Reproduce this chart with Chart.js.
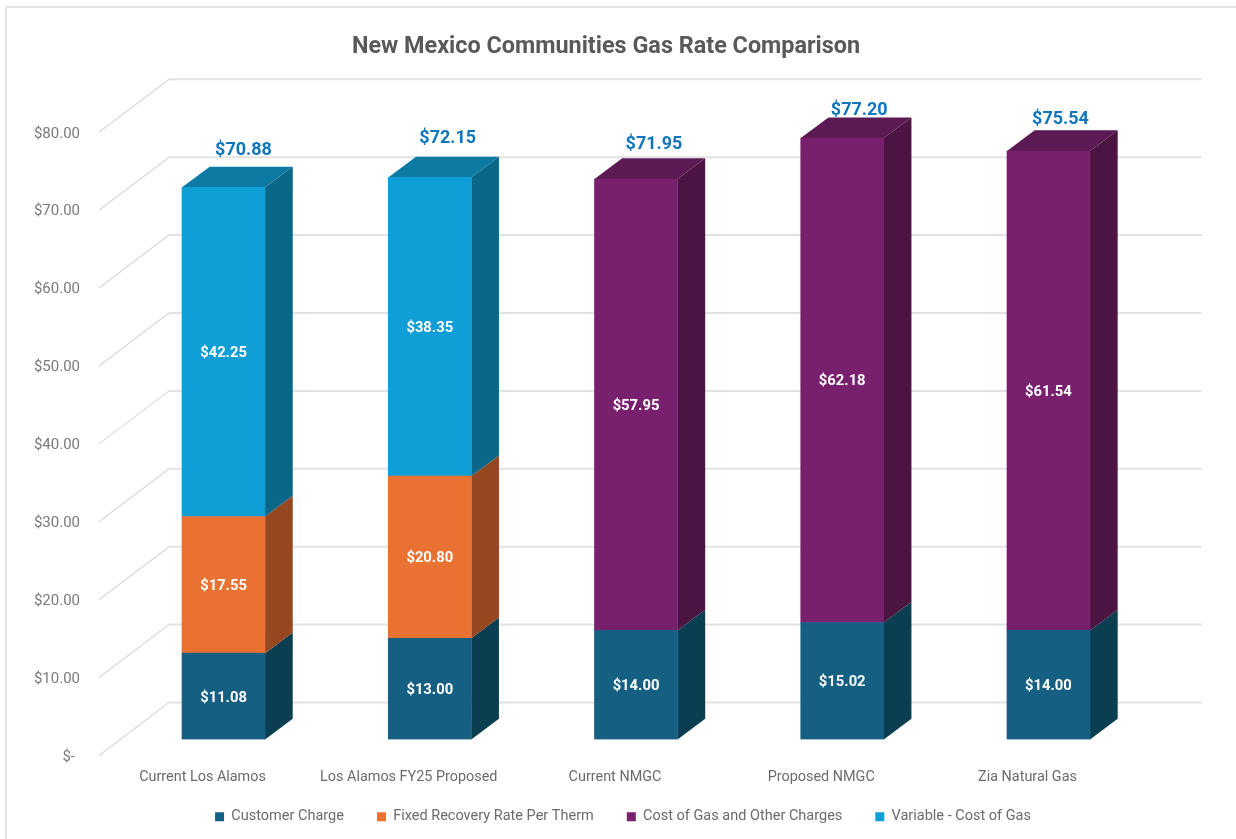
<!DOCTYPE html>
<html>
<head>
<meta charset="utf-8">
<title>New Mexico Communities Gas Rate Comparison</title>
<script src="https://cdn.jsdelivr.net/npm/chart.js@4/dist/chart.umd.min.js"></script>
<style>
  html, body { margin: 0; padding: 0; background: #fff; overflow: hidden; }
  #wrap { width: 1236px; height: 839px; }
</style>
</head>
<body>
<div id="wrap"><canvas id="gasChart"></canvas></div>
<script>
const categories = ['Current Los Alamos', 'Los Alamos FY25 Proposed', 'Current NMGC', 'Proposed NMGC', 'Zia Natural Gas'];
const customerCharge = [11.08, 13.00, 14.00, 15.02, 14.00];
const fixedRecovery = [17.55, 20.80, null, null, null];
const costOfGasOther = [null, null, 57.95, 62.18, 61.54];
const variableGas = [42.25, 38.35, null, null, null];
const totals = [70.88, 72.15, 71.95, 77.20, 75.54];

// hand-placed total labels in the original, px above the bar's front top edge
const totalRaise = [37, 39, 34, 28, 32];
const totalShift = [20, 18, 18, 17, 12];

const depthX = 27.7, depthY = -20.7;   // bar depth
const wallY = -37;                     // bar plane to back wall
const floorX = -70, floorY = 53;       // back wall to front end of side wall
const sans = 'Roboto, sans-serif';

const fmt = v => '$' + v.toFixed(2);

const faces = [
  { front: '#156082', side: '#0c3e52', top: '#0f4a63' },
  { front: '#e97132', side: '#95481f', top: '#b55726' },
  { front: '#78206e', side: '#4c1441', top: '#5c1a54' },
  { front: '#0f9ed5', side: '#0a6788', top: '#0c7aa3' }
];

function poly(ctx, pts, color) {
  ctx.fillStyle = color;
  ctx.beginPath();
  pts.forEach((p, i) => i ? ctx.lineTo(p[0], p[1]) : ctx.moveTo(p[0], p[1]));
  ctx.closePath();
  ctx.fill();
}

const bar3d = {
  id: 'bar3d',
  afterLayout(chart) {
    // excel centres title and legend on its own, not on the plot
    chart.titleBlock.left -= 30; chart.titleBlock.right -= 30;
    chart.legend.left -= 13; chart.legend.right -= 13;
    chart.legend.top += 37; chart.legend.bottom += 37;
  },
  beforeDraw(chart) {
    const ctx = chart.ctx;
    ctx.save();
    ctx.strokeStyle = '#dcdcdc';
    ctx.lineWidth = 1.5;
    ctx.beginPath();
    ctx.moveTo(6, 839); ctx.lineTo(6, 7); ctx.lineTo(1236, 7);
    ctx.stroke();
    ctx.restore();
  },
  beforeDatasetsDraw(chart) {
    const ctx = chart.ctx, y = chart.scales.y, area = chart.chartArea;
    const backLeft = area.left + 48.6, backRight = area.right + 50;
    ctx.save();
    y.ticks.forEach(t => {
      const py = y.getPixelForValue(t.value) + wallY;
      ctx.strokeStyle = '#d9d9d9';
      ctx.lineWidth = 1.2;
      ctx.beginPath();
      ctx.moveTo(backLeft + floorX, py + floorY);
      ctx.lineTo(backLeft, py);
      ctx.stroke();
      ctx.strokeStyle = '#e2e2e2';
      ctx.lineWidth = 2;
      ctx.beginPath();
      ctx.moveTo(backLeft, py);
      ctx.lineTo(backRight, py);
      ctx.stroke();
    });
    // side and top faces, bottom segment first
    chart.data.datasets.forEach((ds, d) => {
      chart.getDatasetMeta(d).data.forEach((bar, i) => {
        if (ds.data[i] == null) return;
        const p = bar.getProps(['x', 'y', 'base', 'width'], true);
        const l = p.x - p.width / 2, r = p.x + p.width / 2;
        poly(ctx, [[r, p.y], [r + depthX, p.y + depthY], [r + depthX, p.base + depthY], [r, p.base]], faces[d].side);
        const isTop = chart.data.datasets.slice(d + 1).every(o => o.data[i] == null);
        if (isTop) {
          poly(ctx, [[l, p.y], [l + depthX, p.y + depthY], [r + depthX, p.y + depthY], [r, p.y]], faces[d].top);
        }
      });
    });
    ctx.restore();
  },
  afterDatasetsDraw(chart) {
    const ctx = chart.ctx, x = chart.scales.x, y = chart.scales.y;
    ctx.save();
    ctx.textBaseline = 'middle';
    ctx.textAlign = 'center';

    // segment values
    ctx.font = 'bold 14.8px ' + sans;
    ctx.fillStyle = '#fff';
    chart.data.datasets.forEach((ds, d) => {
      chart.getDatasetMeta(d).data.forEach((bar, i) => {
        if (ds.data[i] == null) return;
        const p = bar.getProps(['x', 'y', 'base'], true);
        ctx.fillText(fmt(ds.data[i]), p.x, (p.y + p.base) / 2 + 1.5);
      });
    });

    // stack totals
    ctx.font = 'bold 18px ' + sans;
    ctx.fillStyle = '#0f75bd';
    totals.forEach((v, i) => {
      ctx.fillText(fmt(v), x.getPixelForValue(i) + totalShift[i], y.getPixelForValue(v) - totalRaise[i]);
    });

    // axis labels sit on the front edge of the floor, not the bar plane
    ctx.font = '14.4px ' + sans;
    ctx.fillStyle = '#6b6b6b';
    categories.forEach((c, i) => {
      ctx.fillText(c, x.getPixelForValue(i) - 21, 777);
    });
    ctx.textAlign = 'right';
    ctx.font = '15px ' + sans;
    ctx.fillStyle = '#7a7a7a';
    y.ticks.forEach(t => {
      const py = y.getPixelForValue(t.value) + wallY + floorY + 1.5;
      ctx.fillText(t.value === 0 ? '$-' : fmt(t.value), t.value === 0 ? 75 : 80, py);
    });
    ctx.restore();
  }
};

new Chart(document.getElementById('gasChart'), {
  type: 'bar',
  data: {
    labels: categories,
    datasets: [
      { label: 'Customer Charge', data: customerCharge, backgroundColor: faces[0].front },
      { label: 'Fixed Recovery Rate Per Therm', data: fixedRecovery, backgroundColor: faces[1].front },
      { label: 'Cost of Gas and Other Charges', data: costOfGasOther, backgroundColor: faces[2].front },
      { label: 'Variable - Cost of Gas', data: variableGas, backgroundColor: faces[3].front }
    ]
  },
  options: {
    animation: false,
    responsive: true,
    maintainAspectRatio: false,
    barThickness: 83,
    layout: { padding: { left: 120.4, right: 84.4, top: 0, bottom: 42 } },
    plugins: {
      title: {
        display: true,
        text: 'New Mexico Communities Gas Rate Comparison',
        color: '#595959',
        font: { family: sans, size: 23.4, weight: 'bold', lineHeight: 1.2 },
        padding: { top: 33, bottom: 55.2 }
      },
      legend: {
        position: 'bottom',
        labels: {
          boxWidth: 9,
          boxHeight: 9,
          padding: 33,
          color: '#6b6b6b',
          font: { family: sans, size: 14.5 }
        }
      },
      tooltip: { enabled: false }
    },
    scales: {
      x: { display: false, stacked: true },
      y: { display: false, stacked: true, min: 0, max: 80, ticks: { stepSize: 10 } }
    }
  },
  plugins: [bar3d]
});
</script>
</body>
</html>
